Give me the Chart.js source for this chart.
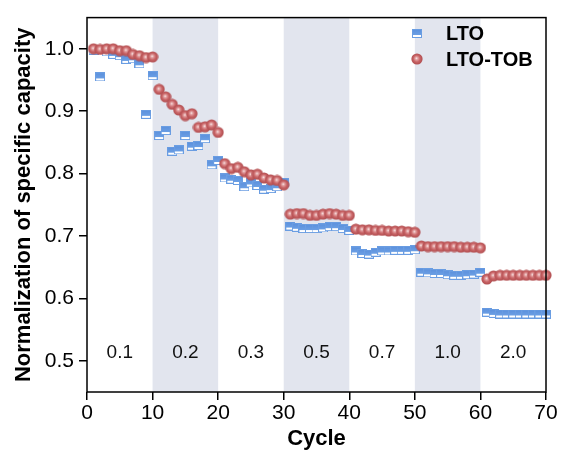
<!DOCTYPE html>
<html>
<head>
<meta charset="utf-8">
<script src="https://cdn.jsdelivr.net/npm/chart.js@4.4.1/dist/chart.umd.min.js"></script>
<style>
  html, body { margin: 0; padding: 0; background: #ffffff; }
  #wrap { width: 561px; height: 452px; }
</style>
</head>
<body>
<div id="wrap"><canvas id="chart" width="561" height="452"></canvas></div>
<script>
// Cycle numbers
const cycles = [
  1, 2, 3, 4, 5, 6, 7, 8, 9, 10,
  11, 12, 13, 14, 15, 16, 17, 18, 19, 20,
  21, 22, 23, 24, 25, 26, 27, 28, 29, 30,
  31, 32, 33, 34, 35, 36, 37, 38, 39, 40,
  41, 42, 43, 44, 45, 46, 47, 48, 49, 50,
  51, 52, 53, 54, 55, 56, 57, 58, 59, 60,
  61, 62, 63, 64, 65, 66, 67, 68, 69, 70
];

// Normalized specific capacity, bare LTO
const ltoValues = [
  0.998, 0.955, 0.995, 0.991, 0.989, 0.983, 0.984, 0.976, 0.895, 0.957,
  0.861, 0.869, 0.836, 0.838, 0.861, 0.844, 0.845, 0.856, 0.814, 0.821,
  0.793, 0.791, 0.789, 0.779, 0.785, 0.781, 0.775, 0.776, 0.779, 0.786,
  0.716, 0.714, 0.712, 0.712, 0.712, 0.713, 0.715, 0.715, 0.712, 0.709,
  0.676, 0.672, 0.671, 0.674, 0.676, 0.676, 0.677, 0.677, 0.677, 0.678,
  0.642, 0.641, 0.640, 0.640, 0.638, 0.637, 0.637, 0.638, 0.639, 0.642,
  0.578, 0.576, 0.575, 0.575, 0.575, 0.575, 0.575, 0.575, 0.575, 0.575
];

// Normalized specific capacity, LTO-TOB
const ltoTobValues = [
  1.000, 0.999, 1.000, 1.000, 0.997, 0.997, 0.991, 0.989, 0.986, 0.987,
  0.935, 0.923, 0.911, 0.902, 0.893, 0.896, 0.874, 0.875, 0.878, 0.866,
  0.816, 0.808, 0.810, 0.803, 0.798, 0.799, 0.793, 0.790, 0.789, 0.782,
  0.735, 0.736, 0.736, 0.733, 0.733, 0.735, 0.736, 0.735, 0.733, 0.733,
  0.711, 0.710, 0.710, 0.709, 0.709, 0.708, 0.708, 0.708, 0.707, 0.706,
  0.684, 0.683, 0.683, 0.683, 0.683, 0.683, 0.682, 0.682, 0.682, 0.681,
  0.631, 0.636, 0.637, 0.637, 0.637, 0.637, 0.637, 0.637, 0.637, 0.637
];

// C-rate of each 10-cycle block
const rateLabels = ['0.1', '0.2', '0.3', '0.5', '0.7', '1.0', '2.0'];
// Shaded cycle ranges
const shadedBlocks = [[10, 20], [30, 40], [50, 60]];

const xTicks = [0, 10, 20, 30, 40, 50, 60, 70];
const yTicks = [0.5, 0.6, 0.7, 0.8, 0.9, 1.0];

const FONT = '"Liberation Sans", Arial, Helvetica, sans-serif';

// Half-filled square marker
function makeSquareMarker() {
  const c = document.createElement('canvas');
  c.width = 10; c.height = 9;
  const g = c.getContext('2d');
  g.fillStyle = '#ffffff';
  g.fillRect(0, 0, 10, 9);
  const grad = g.createLinearGradient(0, 0, 0, 6);
  grad.addColorStop(0, '#5a8fdc');
  grad.addColorStop(1, '#6b9fe5');
  g.fillStyle = grad;
  g.fillRect(0, 0, 10, 6);
  g.strokeStyle = '#6a9de2';
  g.lineWidth = 1;
  g.strokeRect(0.5, 0.5, 9, 8);
  return c;
}

// Shaded sphere marker
function makeSphereMarker() {
  const c = document.createElement('canvas');
  c.width = 12; c.height = 12;
  const g = c.getContext('2d');
  const grad = g.createRadialGradient(5.4, 5.2, 0, 6, 6, 6);
  grad.addColorStop(0, '#fbeeee');
  grad.addColorStop(0.22, '#e3a3a4');
  grad.addColorStop(0.55, '#c96466');
  grad.addColorStop(1, '#ab484b');
  g.fillStyle = grad;
  g.beginPath();
  g.arc(6, 6, 5.6, 0, Math.PI * 2);
  g.fill();
  return c;
}

const squareMarker = makeSquareMarker();
const sphereMarker = makeSphereMarker();

const bandsPlugin = {
  id: 'bands',
  beforeDraw(chart) {
    const { ctx, chartArea: a, scales: { x } } = chart;
    ctx.save();
    ctx.fillStyle = '#e2e5ee';
    shadedBlocks.forEach(([s, e]) => {
      const x0 = x.getPixelForValue(s);
      const x1 = x.getPixelForValue(e);
      ctx.fillRect(x0, a.top, x1 - x0, a.bottom - a.top);
    });
    ctx.restore();
  }
};

const rateLabelPlugin = {
  id: 'rateLabels',
  afterDatasetsDraw(chart) {
    const { ctx, scales: { x, y } } = chart;
    ctx.save();
    ctx.font = '19px ' + FONT;
    ctx.fillStyle = '#111111';
    ctx.textAlign = 'center';
    ctx.textBaseline = 'middle';
    rateLabels.forEach((t, i) => {
      ctx.fillText(t, x.getPixelForValue(5 + 10 * i), y.getPixelForValue(0.513));
    });
    ctx.restore();
  }
};

const framePlugin = {
  id: 'frame',
  afterDraw(chart) {
    const { ctx, chartArea: a } = chart;
    ctx.save();
    ctx.strokeStyle = '#000000';
    ctx.lineWidth = 1.5;
    ctx.strokeRect(a.left, a.top, a.right - a.left, a.bottom - a.top);

    // legend
    const entries = [
      { img: squareMarker, text: 'LTO', y: 33 },
      { img: sphereMarker, text: 'LTO-TOB', y: 59 }
    ];
    ctx.font = 'bold 20px ' + FONT;
    ctx.fillStyle = '#000000';
    ctx.textAlign = 'left';
    ctx.textBaseline = 'middle';
    entries.forEach(e => {
      ctx.drawImage(e.img, Math.round(416.5 - e.img.width / 2), Math.round(e.y - e.img.height / 2));
      ctx.fillText(e.text, 446, e.y + 1);
    });
    ctx.restore();
  }
};

new Chart(document.getElementById('chart'), {
  type: 'scatter',
  data: {
    datasets: [
      {
        label: 'LTO-TOB',
        data: cycles.map((c, i) => ({ x: c, y: ltoTobValues[i] })),
        pointStyle: sphereMarker,
        pointRadius: 5,
        showLine: false,
        clip: false,
        order: 1
      },
      {
        label: 'LTO',
        data: cycles.map((c, i) => ({ x: c, y: ltoValues[i] })),
        pointStyle: squareMarker,
        pointRadius: 5,
        showLine: false,
        clip: false,
        order: 2
      }
    ]
  },
  options: {
    responsive: false,
    animation: false,
    layout: { padding: { top: 12, right: 15, bottom: 0, left: 0 } },
    plugins: { legend: { display: false }, tooltip: { enabled: false } },
    scales: {
      x: {
        type: 'linear',
        min: 0,
        max: 70,
        afterBuildTicks: s => { s.ticks = xTicks.map(v => ({ value: v })); },
        afterFit: s => { s.height = 60; },
        ticks: { color: '#000', font: { family: FONT, size: 21 }, padding: 1, maxRotation: 0, autoSkip: false },
        grid: { drawOnChartArea: false, drawTicks: true, tickLength: 8, color: '#000', lineWidth: 1.5 },
        border: { display: false },
        title: { display: true, text: 'Cycle', color: '#000', font: { family: FONT, size: 22, weight: 'bold' }, padding: { top: 0, bottom: 0 } }
      },
      y: {
        min: 0.45,
        max: 1.05,
        afterBuildTicks: s => { s.ticks = yTicks.map(v => ({ value: v })); },
        afterFit: s => { s.width = 87; },
        ticks: { color: '#000', font: { family: FONT, size: 21 }, padding: 5, callback: v => Number(v).toFixed(1) },
        grid: { drawOnChartArea: false, drawTicks: true, tickLength: 8, color: '#000', lineWidth: 1.5 },
        border: { display: false },
        title: { display: true, text: 'Normalization of specific capacity', color: '#000', font: { family: FONT, size: 22, weight: 'bold' }, padding: { top: 11, bottom: 0 } }
      }
    }
  },
  plugins: [bandsPlugin, rateLabelPlugin, framePlugin]
});
</script>
</body>
</html>
